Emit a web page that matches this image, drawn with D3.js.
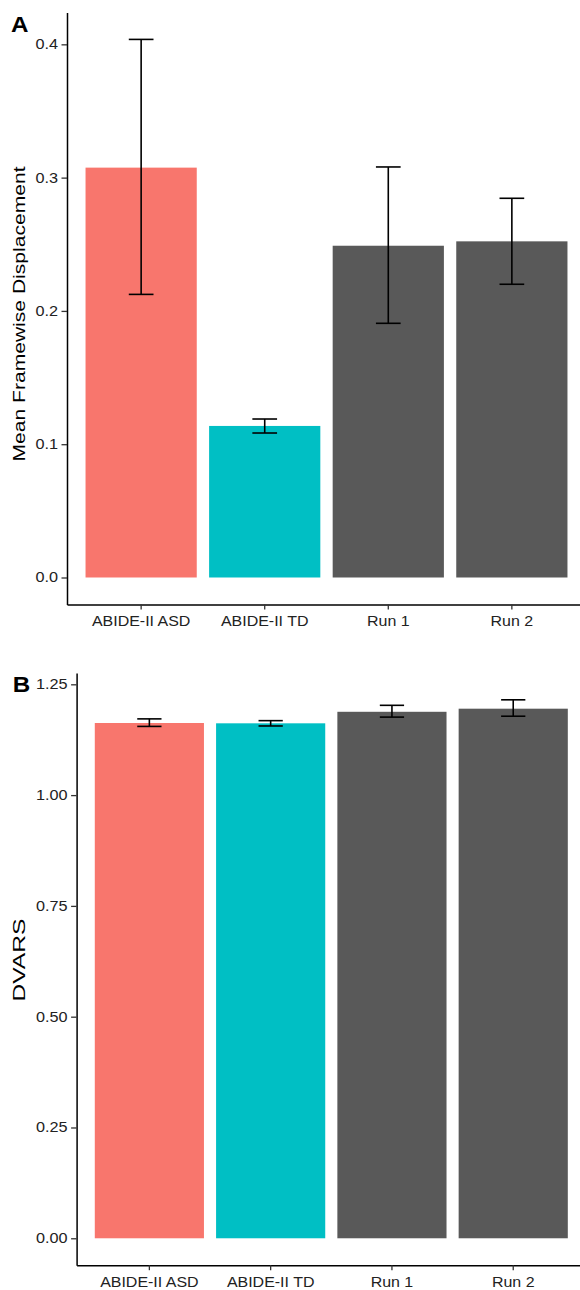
<!DOCTYPE html>
<html>
<head>
<meta charset="utf-8">
<script src="https://cdn.jsdelivr.net/npm/d3@7"></script>
<style>
  body { margin: 0; background: #fff; }
  svg { display: block; font-family: "Liberation Sans", Arial, Helvetica, sans-serif; }
</style>
</head>
<body>
<div id="chart"></div>
<script>
// groups shared by both panels
const groups = ["ABIDE-II ASD", "ABIDE-II TD", "Run 1", "Run 2"];
const barColors = ["#F8766D", "#00BFC4", "#595959", "#595959"];

// panel A: mean framewise displacement
const fdMean = [0.3075, 0.1137, 0.2489, 0.2522];
const fdLower = [0.2124, 0.1084, 0.1907, 0.2200];
const fdUpper = [0.4037, 0.1189, 0.3080, 0.2845];
const fdTicks = [0, 0.1, 0.2, 0.3, 0.4];

// panel B: DVARS
const dvarsMean = [1.1627, 1.1620, 1.1880, 1.1950];
const dvarsLower = [1.1550, 1.1560, 1.1760, 1.1780];
const dvarsUpper = [1.1720, 1.1680, 1.2026, 1.2150];
const dvarsTicks = [0, 0.25, 0.5, 0.75, 1.0, 1.25];

const width = 580;
const height = 1290;

const svg = d3.select("#chart")
    .append("svg")
    .attr("width", width)
    .attr("height", height);

// widen text a little, the reference font runs wider than Arial
const stretch = (sel, k) => sel.each(function () {
    const w = this.getComputedTextLength();
    d3.select(this)
        .attr("textLength", w * k)
        .attr("lengthAdjust", "spacingAndGlyphs");
});

const drawPanel = (opts) => {
    const { letter, letterPos, title, titleY, titleLen, mean, lower, upper, ticks, fmt, box } = opts;

    // ggplot style: 5% expansion around 0..max(upper)
    const yMax = d3.max(upper);
    const pad = yMax * 0.05;
    const y = d3.scaleLinear()
        .domain([-pad, yMax + pad])
        .range([box.bottom, box.top]);

    const x = d3.scaleBand()
        .domain(groups)
        .range([box.left, box.right])
        .paddingInner(0.1)
        .paddingOuter(0.15);

    const g = svg.append("g");

    // bars
    g.selectAll("rect.bar")
        .data(groups)
        .enter()
        .append("rect")
        .attr("class", "bar")
        .attr("x", d => x(d))
        .attr("width", x.bandwidth())
        .attr("y", (d, i) => y(mean[i]))
        .attr("height", (d, i) => y(0) - y(mean[i]))
        .attr("fill", (d, i) => barColors[i]);

    // error bars
    const capW = x.step() * 0.2;
    const err = g.selectAll("g.err")
        .data(groups)
        .enter()
        .append("g")
        .attr("class", "err")
        .attr("transform", d => `translate(${x(d) + x.bandwidth() / 2},0)`)
        .attr("stroke", "#000")
        .attr("stroke-width", 1.6);

    err.append("line")
        .attr("y1", (d, i) => y(lower[i]))
        .attr("y2", (d, i) => y(upper[i]));
    err.append("line")
        .attr("x1", -capW / 2).attr("x2", capW / 2)
        .attr("y1", (d, i) => y(upper[i])).attr("y2", (d, i) => y(upper[i]));
    err.append("line")
        .attr("x1", -capW / 2).attr("x2", capW / 2)
        .attr("y1", (d, i) => y(lower[i])).attr("y2", (d, i) => y(lower[i]));

    // y axis
    const yAxis = g.append("g")
        .attr("transform", `translate(${box.left},0)`)
        .call(d3.axisLeft(y).tickValues(ticks).tickFormat(d3.format(fmt)).tickSize(5.5).tickSizeOuter(0).tickPadding(3.5));

    // x axis
    const xAxis = g.append("g")
        .attr("transform", `translate(0,${box.bottom})`)
        .call(d3.axisBottom(x).tickSize(5).tickSizeOuter(0));

    [yAxis, xAxis].forEach(ax => {
        ax.select(".domain").attr("stroke", "#000").attr("stroke-width", 1.5);
        ax.selectAll(".tick line").attr("stroke", "#333").attr("stroke-width", 1.3);
    });

    yAxis.selectAll("text")
        .attr("fill", "#222")
        .attr("font-size", 14)
        .call(stretch, 1.16);

    xAxis.selectAll("text")
        .attr("fill", "#222")
        .attr("font-size", 15.5)
        .attr("y", 21.6)
        .attr("dy", 0)
        .call(stretch, 1.03);

    // axis title
    g.append("text")
        .attr("transform", `translate(25,${titleY}) rotate(-90)`)
        .attr("text-anchor", "middle")
        .attr("font-size", 17)
        .attr("fill", "#000")
        .attr("textLength", titleLen)
        .attr("lengthAdjust", "spacingAndGlyphs")
        .text(title);

    // panel letter
    g.append("text")
        .attr("x", letterPos[0])
        .attr("y", letterPos[1])
        .attr("font-size", 22)
        .attr("font-weight", "bold")
        .attr("fill", "#000")
        .text(letter)
        .call(stretch, 1.1);
};

drawPanel({
    letter: "A", letterPos: [11, 31.7],
    title: "Mean Framewise Displacement", titleY: 314, titleLen: 295,
    mean: fdMean, lower: fdLower, upper: fdUpper,
    ticks: fdTicks, fmt: ".1f",
    box: { left: 67, right: 586, top: 12.5, bottom: 604.4 }
});

drawPanel({
    letter: "B", letterPos: [12.7, 691.7],
    title: "DVARS", titleY: 960, titleLen: 83,
    mean: dvarsMean, lower: dvarsLower, upper: dvarsUpper,
    ticks: dvarsTicks, fmt: ".2f",
    box: { left: 76.6, right: 586, top: 672.9, bottom: 1265.2 }
});
</script>
</body>
</html>
